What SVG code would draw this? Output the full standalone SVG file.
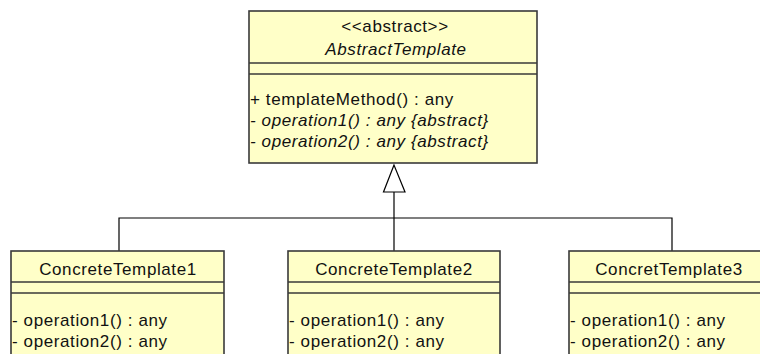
<svg xmlns="http://www.w3.org/2000/svg" width="760" height="354" viewBox="0 0 760 354">
<style>
.box{fill:#ffffc8;stroke:#3a3a3a;stroke-width:1.6}
.sep{stroke:#3a3a3a;stroke-width:1.6}
.t{font-family:"Liberation Sans",Arial,sans-serif;font-size:17px;letter-spacing:0.6px;fill:#111}
.c{text-anchor:middle}
.i{font-style:italic}
.conn{fill:none;stroke:#000;stroke-width:1.2}
</style>
<rect width="760" height="354" fill="#fff"/>
<g id="connectors">
<polyline class="conn" points="119,251 119,218 672,218 672,251"/>
<line class="conn" x1="394" y1="251" x2="394" y2="192"/>
<polygon points="394,165 383.5,192 405,192" fill="#fff" stroke="#000" stroke-width="1.2"/>
</g>
<g id="AbstractTemplate">
<rect class="box" x="249" y="11" width="288" height="152"/>
<line class="sep" x1="249" y1="63" x2="537" y2="63"/>
<line class="sep" x1="249" y1="74" x2="537" y2="74"/>
<text class="t c" x="395" y="32">&lt;&lt;abstract&gt;&gt;</text>
<text class="t c i" x="396" y="55">AbstractTemplate</text>
<text class="t" x="250" y="105">+ templateMethod() : any</text>
<text class="t i" x="250" y="126">- operation1() : any {abstract}</text>
<text class="t i" x="250" y="147">- operation2() : any {abstract}</text>
</g>
<g id="ConcreteTemplate1">
<rect class="box" x="11" y="251" width="213" height="120"/>
<line class="sep" x1="11" y1="282" x2="224" y2="282"/>
<line class="sep" x1="11" y1="293" x2="224" y2="293"/>
<text class="t c" x="118" y="275">ConcreteTemplate1</text>
<text class="t" x="12" y="326">- operation1() : any</text>
<text class="t" x="12" y="347">- operation2() : any</text>
</g>
<g id="ConcreteTemplate2">
<rect class="box" x="288" y="251" width="212" height="120"/>
<line class="sep" x1="288" y1="282" x2="500" y2="282"/>
<line class="sep" x1="288" y1="293" x2="500" y2="293"/>
<text class="t c" x="394" y="275">ConcreteTemplate2</text>
<text class="t" x="289" y="326">- operation1() : any</text>
<text class="t" x="289" y="347">- operation2() : any</text>
</g>
<g id="ConcretTemplate3">
<rect class="box" x="569" y="251" width="213" height="120"/>
<line class="sep" x1="569" y1="282" x2="782" y2="282"/>
<line class="sep" x1="569" y1="293" x2="782" y2="293"/>
<text class="t c" x="669" y="275">ConcretTemplate3</text>
<text class="t" x="570" y="326">- operation1() : any</text>
<text class="t" x="570" y="347">- operation2() : any</text>
</g>
</svg>
